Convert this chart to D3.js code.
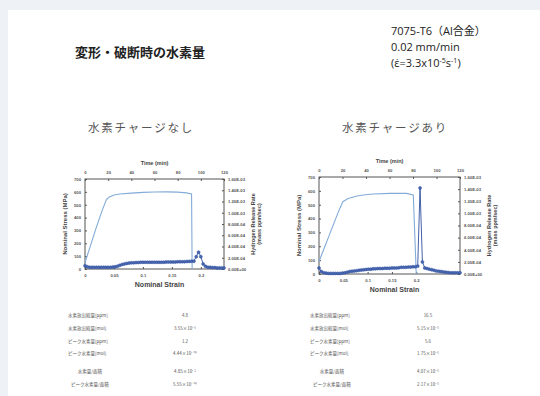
<!DOCTYPE html>
<html>
<head>
<meta charset="utf-8">
<script src="https://cdn.jsdelivr.net/npm/d3@7"></script>
<style>
  html, body { margin: 0; padding: 0; background: #eef2f6; }
  svg { display: block; font-family: "Open Sans", "Noto Sans CJK JP", sans-serif; }
</style>
</head>
<body>
<svg id="chart" width="540" height="396"></svg>
<script>
// ---- data ----
const timeTicks = [0, 20, 40, 60, 80, 100, 120];
const strainTicks = [0, 0.05, 0.1, 0.15, 0.2];
const stressTicks = [0, 100, 200, 300, 400, 500, 600, 700];
const rateTicks = [0, 2e-4, 4e-4, 6e-4, 8e-4, 1e-3, 1.2e-3, 1.4e-3, 1.6e-3];

// sampling times of hydrogen release (min)
const sampleTime = [0, 2, 4, 6, 8, 10, 12, 14, 16, 18, 20, 22, 24, 26, 28, 30, 32, 34, 36, 38, 40,
  42, 44, 46, 48, 50, 52, 54, 56, 58, 60, 62, 64, 66, 68, 70, 72, 74, 76, 78, 80,
  82, 84, 86, 88, 90, 92, 94, 96, 98, 100, 102, 104, 106, 108, 110, 112, 114, 116, 118, 120];

// 水素チャージなし
const strainA = [0, 0.01, 0.02, 0.03, 0.037, 0.042, 0.05, 0.06, 0.08, 0.1, 0.12, 0.14, 0.16, 0.175, 0.184, 0.185];
const stressA = [50, 190, 330, 460, 540, 560, 575, 583, 590, 596, 599, 600, 598, 592, 583, 0];
const rateA = [0.6, 0.4, 0.3, 0.3, 0.3, 0.3, 0.3, 0.3, 0.3, 0.3, 0.3, 0.3, 0.35, 0.4, 0.5, 0.65, 0.8, 0.9, 1.0, 1.05, 1.1,
  1.1, 1.15, 1.15, 1.2, 1.2, 1.2, 1.2, 1.2, 1.2, 1.2, 1.2, 1.2, 1.2, 1.2, 1.25, 1.25, 1.25, 1.25, 1.25, 1.3,
  1.3, 1.3, 1.3, 1.35, 1.35, 1.4, 1.4, 2.2, 3.0, 2.2, 0.9, 0.5, 0.3, 0.3, 0.25, 0.25, 0.2, 0.2, 0.2, 0.2]; // x1e-4

// 水素チャージあり
const strainB = [0, 0.01, 0.02, 0.03, 0.04, 0.049, 0.06, 0.078, 0.095, 0.111, 0.146, 0.18, 0.194, 0.2];
const stressB = [90, 180, 270, 360, 450, 522, 545, 563, 572, 577, 582, 582, 570, 0];
const rateB = [1.0, 0.4, 0.2, 0.15, 0.1, 0.1, 0.1, 0.1, 0.1, 0.1, 0.15, 0.2, 0.3, 0.4, 0.45, 0.5, 0.55, 0.6, 0.65, 0.7, 0.75,
  0.8, 0.8, 0.85, 0.85, 0.9, 0.9, 0.9, 0.95, 0.95, 0.95, 1.0, 1.0, 1.0, 1.05, 1.1, 1.1, 1.1, 1.15, 1.15, 1.2,
  1.2, 1.3, 14.2, 2.0, 1.0, 0.9, 0.8, 0.7, 0.6, 0.5, 0.45, 0.4, 0.35, 0.3, 0.25, 0.2, 0.2, 0.2, 0.2, 0.2]; // x1e-4

const tableLabels = ["水素放出総量[ppm]", "水素放出総量[mol]", "ピーク水素量[ppm]", "ピーク水素量[mol]", "水素量/面積", "ピーク水素量/面積"];
const tableA = ["4.8", "3.55×10⁻⁶", "1.2", "4.44×10⁻¹⁰", "4.85×10⁻⁵", "5.55×10⁻¹⁰"];
const tableB = ["16.5", "5.15×10⁻⁶", "5.6", "1.75×10⁻⁶", "4.07×10⁻⁶", "2.17×10⁻⁶"];

// ---- drawing ----
const svg = d3.select("#chart");
svg.append("rect").attr("x", 8).attr("y", 10).attr("width", 540).attr("height", 400).attr("fill", "#fff");

svg.append("text").attr("x", 75).attr("y", 57)
  .attr("font-family", "Noto Sans CJK JP").attr("font-weight", "bold")
  .attr("font-size", 13).attr("fill", "#222").text("変形・破断時の水素量");

const info = svg.append("g").attr("font-family", "Open Sans, Noto Sans CJK JP")
  .attr("font-size", 11).attr("fill", "#222");
info.append("text").attr("x", 391).attr("y", 35).text("7075-T6（Al合金）");
info.append("text").attr("x", 391).attr("y", 51).text("0.02 mm/min");
const eps = info.append("text").attr("x", 391).attr("y", 67);
eps.append("tspan").text("(ε̇=3.3x10");
eps.append("tspan").attr("dy", -4).attr("font-size", 7).text("-5");
eps.append("tspan").attr("dy", 4).text("s");
eps.append("tspan").attr("dy", -4).attr("font-size", 7).text("-1");
eps.append("tspan").attr("dy", 4).text(")");

svg.append("text").attr("x", 88).attr("y", 132).attr("font-family", "Noto Sans CJK JP")
  .attr("font-size", 11.5).attr("letter-spacing", 1.8).attr("fill", "#555").text("水素チャージなし");
svg.append("text").attr("x", 342).attr("y", 132).attr("font-family", "Noto Sans CJK JP")
  .attr("font-size", 11.5).attr("letter-spacing", 1.8).attr("fill", "#555").text("水素チャージあり");

function fmtE(v) {
  const [m, e] = v.toExponential(2).split("e");
  const n = +e;
  return m + "E" + (n < 0 ? "-" : "+") + String(Math.abs(n)).padStart(2, "0");
}

function drawPanel(box, strainMax, strain, stress, rate) {
  const x = d3.scaleLinear().domain([0, strainMax]).range([box.left, box.right]);
  const t = d3.scaleLinear().domain([0, 120]).range([box.left, box.right]);
  const y = d3.scaleLinear().domain([0, 700]).range([box.bottom, box.top]);
  const yr = d3.scaleLinear().domain([0, 1.6e-3]).range([box.bottom, box.top]);
  const g = svg.append("g").attr("font-family", "Liberation Sans, Arial, sans-serif");

  g.append("rect").attr("x", box.left).attr("y", box.top)
    .attr("width", box.right - box.left).attr("height", box.bottom - box.top)
    .attr("fill", "#fff").attr("stroke", "#555").attr("stroke-width", 1);

  const style = (a) => a.call((s) => s.select(".domain").remove())
    .call((s) => s.selectAll("line").attr("stroke", "#555"))
    .call((s) => s.selectAll("text").attr("fill", "#555").attr("font-size", 4.2).attr("font-weight", "bold"));

  g.append("g").attr("transform", `translate(0,${box.top})`)
    .call(d3.axisTop(t).tickValues(timeTicks).tickSizeInner(-2).tickSizeOuter(0).tickPadding(5))
    .call(style);
  g.append("g").attr("transform", `translate(0,${box.bottom})`)
    .call(d3.axisBottom(x).tickValues(strainTicks).tickFormat(d3.format("")).tickSizeInner(-2).tickSizeOuter(0).tickPadding(5))
    .call(style);
  g.append("g").attr("transform", `translate(${box.left},0)`)
    .call(d3.axisLeft(y).tickValues(stressTicks).tickSizeInner(-2).tickSizeOuter(0).tickPadding(4))
    .call(style);
  g.append("g").attr("transform", `translate(${box.right},0)`)
    .call(d3.axisRight(yr).tickValues(rateTicks).tickFormat(fmtE).tickSizeInner(-2).tickSizeOuter(0).tickPadding(4))
    .call(style);

  const title = (tx, ty, rot, size, str) => g.append("text")
    .attr("transform", `translate(${tx},${ty}) rotate(${rot})`)
    .attr("text-anchor", "middle").attr("font-size", size).attr("font-weight", "bold")
    .attr("fill", "#444").text(str);
  const midX = (box.left + box.right) / 2, midY = (box.top + box.bottom) / 2;
  title(midX, box.top - 14, 0, 5.5, "Time (min)");
  title(midX + 5, box.bottom + 18, 0, 7, "Nominal Strain");
  title(box.left - 18, midY, -90, 6, "Nominal Stress (MPa)");
  title(box.right + 31, midY, -90, 5.5, "Hydrogen Release Rate");
  title(box.right + 37, midY, -90, 5.5, "(mass ppm/sec)");

  const stressPts = strain.map((s, i) => [s, stress[i]]);
  g.append("path").datum(stressPts)
    .attr("fill", "none").attr("stroke", "#82abd8").attr("stroke-width", 1.1)
    .attr("d", d3.line().x((d) => x(d[0])).y((d) => y(d[1])));

  const ratePts = sampleTime.map((tm, i) => [tm, rate[i] * 1e-4]);
  g.append("path").datum(ratePts)
    .attr("fill", "none").attr("stroke", "#2f4f9e").attr("stroke-width", 0.9)
    .attr("d", d3.line().x((d) => t(d[0])).y((d) => yr(d[1])));
  g.append("g").selectAll("circle").data(ratePts).join("circle")
    .attr("cx", (d) => t(d[0])).attr("cy", (d) => yr(d[1])).attr("r", 1.5)
    .attr("fill", "#4a68b0").attr("stroke", "#2f4f9e").attr("stroke-width", 0.5);
}

drawPanel({ left: 85, right: 224, top: 179, bottom: 269 }, 0.24, strainA, stressA, rateA);
drawPanel({ left: 319, right: 460, top: 177, bottom: 274 }, 0.29, strainB, stressB, rateB);

function drawTable(lx, vx, rows) {
  const g = svg.append("g").attr("font-family", "Noto Sans CJK JP").attr("font-size", 4.5).attr("fill", "#555");
  const rowY = [317, 330, 343, 355, 373, 386];
  rows.forEach((v, i) => {
    g.append("text").attr("x", lx).attr("y", rowY[i]).attr("text-anchor", i >= 4 ? "middle" : "start")
      .attr("dx", i >= 4 ? 22 : 0).text(tableLabels[i]);
    g.append("text").attr("x", vx).attr("y", rowY[i]).attr("text-anchor", "middle").text(v);
  });
}
drawTable(68, 185, tableA);
drawTable(310, 428, tableB);
</script>
</body>
</html>
